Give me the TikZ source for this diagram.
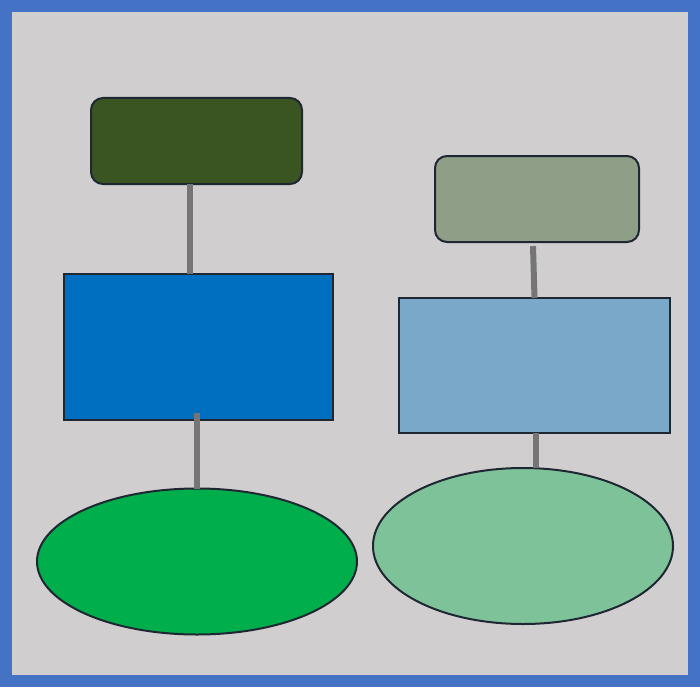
\documentclass[tikz,border=0pt]{standalone}
\usetikzlibrary{shapes.geometric}
\definecolor{frameblue}{HTML}{4472C4}
\definecolor{bggray}{HTML}{D0CECF}
\definecolor{edgedark}{HTML}{1F2733}
\definecolor{darkgreen}{HTML}{3A5422}
\definecolor{midblue}{HTML}{006FBF}
\definecolor{brightgreen}{HTML}{00AE4C}
\definecolor{sage}{HTML}{8F9E87}
\definecolor{lightblue}{HTML}{7AA8C8}
\definecolor{lightgreen}{HTML}{7EC29A}
\definecolor{linkgray}{HTML}{757575}
\tikzset{
  shapebase/.style={draw=edgedark, line width=2pt, inner sep=0pt, outer sep=0pt},
  roundbox/.style={shapebase, rectangle, rounded corners=12pt},
  plainbox/.style={shapebase, rectangle},
  oval/.style={shapebase, ellipse},
  link/.style={draw=linkgray, line width=6pt}
}
\begin{document}
\begin{tikzpicture}[x=1pt, y=-1pt]
\fill[frameblue] (0,0) rectangle (700,687);
\fill[bggray] (12,12) rectangle (688,675);
\useasboundingbox (0,0) rectangle (700,687);
% left column
\node[roundbox, fill=darkgreen, minimum width=211pt, minimum height=86pt] (a) at (196.5,141) {};
\node[plainbox, fill=midblue, minimum width=269pt, minimum height=146pt] (b) at (198.5,347) {};
\node[oval, fill=brightgreen, minimum width=320pt, minimum height=146pt] (c) at (197,561.5) {};
% right column
\node[roundbox, fill=sage, minimum width=204pt, minimum height=86pt] (d) at (537,199) {};
\node[plainbox, fill=lightblue, minimum width=271pt, minimum height=135pt] (e) at (534.5,365.5) {};
\node[oval, fill=lightgreen, minimum width=300pt, minimum height=156pt] (f) at (523,546) {};
% connectors
\draw[link] ([xshift=-6.5pt]a.south) -- ([xshift=-8.5pt]b.north);
\draw[link] ([xshift=-1.5pt,yshift=7pt]b.south) -- (c.north);
\draw[link] ([xshift=-4pt,yshift=-4pt]d.south) -- (e.north);
\draw[link] ([xshift=1.5pt]e.south) -- ([xshift=13pt]f.north);
\end{tikzpicture}
\end{document}
